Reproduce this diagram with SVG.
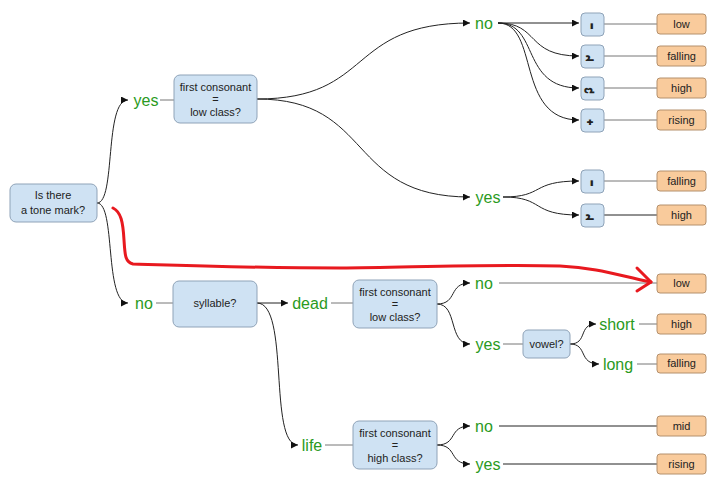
<svg xmlns="http://www.w3.org/2000/svg" width="715" height="492" viewBox="0 0 715 492">
<defs>
<marker id="arr" viewBox="0 0 10 10" refX="10" refY="5" markerWidth="9" markerHeight="7" markerUnits="userSpaceOnUse" orient="auto">
<path d="M0,0 L10,5 L0,10 z" fill="#111"/>
</marker>
</defs>
<style>
.q{fill:#cfe2f3;stroke:#8fa3b8;stroke-width:1}
.r{fill:#f9cb9c;stroke:#b4906c;stroke-width:1}
.t{font-family:"Liberation Sans",Arial,sans-serif;font-size:11px;fill:#222;text-anchor:middle}
.g{font-family:"Liberation Sans",Arial,sans-serif;font-size:16px;fill:#2a9a22;text-anchor:middle}
.m{font-family:"Noto Sans Thai","Tlwg Typist","Garuda","DejaVu Sans",sans-serif;font-size:26px;fill:#222;text-anchor:middle}
.c{fill:none;stroke:#222;stroke-width:1;marker-end:url(#arr)}
.l{fill:none;stroke:#777;stroke-width:1}
.k{fill:none;stroke:#222;stroke-width:1}
</style>
<g id="connectors">
<path class="c" d="M97,203 C116,203 104,100 128,100"/>
<path class="c" d="M97,203 C116,203 104,303 128,303"/>
<path class="l" d="M160,100 H174"/>
<path class="c" d="M257,99 C375,99 345,23 470,23"/>
<path class="c" d="M257,99 C375,99 345,197 470,197"/>
<path class="c" d="M498,23 H579"/>
<path class="c" d="M498,23 C540,23 525,56 579,56"/>
<path class="c" d="M498,23 C540,23 520,88 579,88"/>
<path class="c" d="M498,23 C540,23 515,120 579,120"/>
<path class="l" d="M604,24 H657" stroke="#bbb"/>
<path class="l" d="M604,56 H657"/>
<path class="l" d="M604,88 H657"/>
<path class="l" d="M604,120 H657"/>
<path class="c" d="M503,197 C545,197 530,181 579,181"/>
<path class="c" d="M503,197 C545,197 530,215 579,215"/>
<path class="l" d="M604,181 H657" stroke="#aaa"/>
<path class="k" d="M604,215 H657"/>
<path class="l" d="M156,303 H173"/>
<path class="c" d="M257,303 H288"/>
<path class="c" d="M257,303 C290,303 268,445 298,445"/>
<path class="l" d="M331,303 H353"/>
<path class="c" d="M437,304 C458,304 448,283 470,283"/>
<path class="c" d="M437,304 C458,304 448,344 470,344"/>
<path class="l" d="M499,283 H657"/>
<path class="l" d="M503,344 H523"/>
<path class="c" d="M570,344 C588,344 578,324 596,324"/>
<path class="c" d="M570,344 C588,344 578,364 599,364"/>
<path class="l" d="M639,324 H657"/>
<path class="l" d="M637,364 H657"/>
<path class="l" d="M325,445 H353" stroke="#aaa"/>
<path class="c" d="M437,445 C458,445 448,426 470,426"/>
<path class="c" d="M437,445 C458,445 448,464 470,464"/>
<path class="k" d="M499,426 H657"/>
<path class="k" d="M503,464 H657"/>
</g>
<g id="annotation">
<path d="M113,208 C121,212 123,222 124,240 C125,255 125,262 133,264 C200,266 260,268 340,268 C420,267 500,264 560,266 C600,268 620,276 651,282" fill="none" stroke="#e8191f" stroke-width="3" stroke-linecap="round"/>
<path d="M637,268 L651,282 L637,291" fill="none" stroke="#e8191f" stroke-width="3" stroke-linecap="round" stroke-linejoin="round"/>
</g>
<g id="n-root"><rect class="q" x="10" y="184" width="87" height="38" rx="6"/><text class="t" x="53" y="199">Is there</text><text class="t" x="53" y="214">a tone mark?</text></g>
<g id="l-yes1"><text class="g" x="146" y="106">yes</text></g>
<g id="l-no1"><text class="g" x="144" y="309">no</text></g>
<g id="n-low1"><rect class="q" x="174" y="75" width="83" height="48" rx="6"/><text class="t" x="215.5" y="91">first consonant</text><text class="t" x="215.5" y="103">=</text><text class="t" x="215.5" y="116">low class?</text></g>
<g id="l-no2"><text class="g" x="484" y="29">no</text></g>
<g id="l-yes2"><text class="g" x="488" y="203">yes</text></g>
<g id="m1"><rect class="q" x="581" y="13" width="23" height="23" rx="4"/><text class="m" x="592" y="46">&#160;่</text></g>
<g id="m2"><rect class="q" x="581" y="45" width="23" height="23" rx="4"/><text class="m" x="592" y="78">&#160;้</text></g>
<g id="m3"><rect class="q" x="581" y="77" width="23" height="23" rx="4"/><text class="m" x="592" y="110">&#160;๊</text></g>
<g id="m4"><rect class="q" x="581" y="109" width="23" height="23" rx="4"/><text class="m" x="592" y="142">&#160;๋</text></g>
<g id="m5"><rect class="q" x="581" y="170" width="23" height="23" rx="4"/><text class="m" x="592" y="203">&#160;่</text></g>
<g id="m6"><rect class="q" x="581" y="204" width="23" height="23" rx="4"/><text class="m" x="592" y="237">&#160;้</text></g>
<g id="o1"><rect class="r" x="657" y="14" width="49" height="20" rx="3"/><text class="t" x="681.5" y="28">low</text></g>
<g id="o2"><rect class="r" x="657" y="46" width="49" height="20" rx="3"/><text class="t" x="681.5" y="60">falling</text></g>
<g id="o3"><rect class="r" x="657" y="78" width="49" height="20" rx="3"/><text class="t" x="681.5" y="92">high</text></g>
<g id="o4"><rect class="r" x="657" y="110" width="49" height="20" rx="3"/><text class="t" x="681.5" y="124">rising</text></g>
<g id="o5"><rect class="r" x="657" y="171" width="49" height="20" rx="3"/><text class="t" x="681.5" y="185">falling</text></g>
<g id="o6"><rect class="r" x="657" y="205" width="49" height="20" rx="3"/><text class="t" x="681.5" y="219">high</text></g>
<g id="n-syll"><rect class="q" x="173" y="281" width="84" height="46" rx="6"/><text class="t" x="215" y="307">syllable?</text></g>
<g id="l-dead"><text class="g" x="310" y="309">dead</text></g>
<g id="n-low2"><rect class="q" x="353" y="280" width="84" height="48" rx="6"/><text class="t" x="395" y="296">first consonant</text><text class="t" x="395" y="308">=</text><text class="t" x="395" y="321">low class?</text></g>
<g id="l-no3"><text class="g" x="484" y="289">no</text></g>
<g id="l-yes3"><text class="g" x="488" y="350">yes</text></g>
<g id="n-vowel"><rect class="q" x="523" y="330" width="47" height="28" rx="5"/><text class="t" x="546.5" y="348">vowel?</text></g>
<g id="l-short"><text class="g" x="617" y="330">short</text></g>
<g id="l-long"><text class="g" x="618" y="370">long</text></g>
<g id="o7"><rect class="r" x="657" y="274" width="49" height="19" rx="3"/><text class="t" x="681.5" y="287">low</text></g>
<g id="o8"><rect class="r" x="657" y="314" width="49" height="20" rx="3"/><text class="t" x="681.5" y="328">high</text></g>
<g id="o9"><rect class="r" x="657" y="354" width="49" height="19" rx="3"/><text class="t" x="681.5" y="367">falling</text></g>
<g id="l-life"><text class="g" x="312" y="451">life</text></g>
<g id="n-high"><rect class="q" x="353" y="421" width="84" height="48" rx="6"/><text class="t" x="395" y="437">first consonant</text><text class="t" x="395" y="449">=</text><text class="t" x="395" y="462">high class?</text></g>
<g id="l-no4"><text class="g" x="484" y="432">no</text></g>
<g id="l-yes4"><text class="g" x="488" y="470">yes</text></g>
<g id="o10"><rect class="r" x="657" y="416" width="49" height="20" rx="3"/><text class="t" x="681.5" y="430">mid</text></g>
<g id="o11"><rect class="r" x="657" y="454" width="49" height="20" rx="3"/><text class="t" x="681.5" y="468">rising</text></g>
</svg>
